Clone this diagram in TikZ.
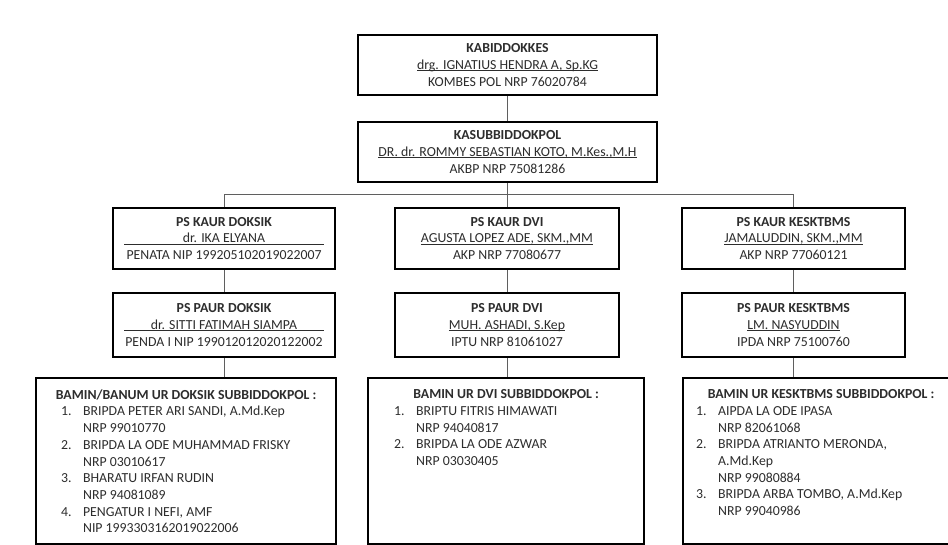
\documentclass[tikz,border=0pt]{standalone}
\usepackage{fontspec}
\setmainfont{Carlito}
\usetikzlibrary{positioning}
\definecolor{ink}{RGB}{45,45,45}
\definecolor{wire}{RGB}{95,95,95}
\newcommand{\nr}[1]{\makebox[22pt][l]{#1}}
\newcommand{\nx}{\hspace*{22pt}}
\newcommand{\uname}[1]{\setbox0=\hbox{#1}\rlap{\rule[-1.6pt]{\wd0}{0.7pt}}\box0}
\newcommand{\wideline}[1]{\rlap{\rule[-1.6pt]{200pt}{0.7pt}}\makebox[200pt]{#1}}

\begin{document}
\begin{tikzpicture}[x=1pt, y=-1pt,
  every node/.style={font=\fontsize{13.8}{16.7}\selectfont, text=ink},
  chief/.style={draw=black, line width=2.2pt, align=center, inner sep=0pt},
  staffbox/.style={draw=black, line width=2.2pt, inner sep=0pt, anchor=north west},
  wireline/.style={draw=wire, line width=1pt}]
  \useasboundingbox (0,0) rectangle (948,544);
  \fill[white] (0,0) rectangle (948,544);

  % pimpinan
  \node[chief, minimum width=299pt, minimum height=60pt] (kabid) at (507.5,65) {\textbf{KABIDDOKKES}\\\uname{drg. IGNATIUS HENDRA A, Sp.KG}\\KOMBES POL NRP 76020784};
  \node[chief, minimum width=299pt, minimum height=60pt, below=24.8pt of kabid] (kasub) {\textbf{KASUBBIDDOKPOL}\\\uname{DR. dr. ROMMY SEBASTIAN KOTO, M.Kes.,M.H}\\AKBP NRP 75081286};

  % kaur
  \node[chief, minimum width=222pt, minimum height=61pt] (kaurdok) at (224,238.5) {\textbf{PS KAUR DOKSIK}\\\wideline{dr. IKA ELYANA}\\PENATA NIP 199205102019022007};
  \node[chief, minimum width=224pt, minimum height=61pt] (kaurdvi) at (507,238.5) {\textbf{PS KAUR DVI}\\\uname{AGUSTA LOPEZ ADE, SKM.,MM}\\AKP NRP 77080677};
  \node[chief, minimum width=223pt, minimum height=61pt] (kaurkes) at (793.5,238.5) {\textbf{PS KAUR KESKTBMS}\\\uname{JAMALUDDIN, SKM.,MM}\\AKP NRP 77060121};

  % paur
  \node[chief, minimum width=222pt, minimum height=64pt, below=21.8pt of kaurdok] (paurdok) {\textbf{PS PAUR DOKSIK}\\\wideline{dr. SITTI FATIMAH SIAMPA}\\PENDA I NIP 199012012020122002};
  \node[chief, minimum width=224pt, minimum height=64pt, below=21.8pt of kaurdvi] (paurdvi) {\textbf{PS PAUR DVI}\\\uname{MUH. ASHADI, S.Kep}\\IPTU NRP 81061027};
  \node[chief, minimum width=223pt, minimum height=64pt, below=21.8pt of kaurkes] (paurkes) {\textbf{PS PAUR KESKTBMS}\\\uname{LM. NASYUDDIN}\\IPDA NRP 75100760};

  % bamin
  \node[staffbox] (bamindok) at (35,377) {\parbox[c][166pt][t]{300pt}{\vspace*{11.5pt}%
    {\centering\bfseries BAMIN/BANUM UR DOKSIK SUBBIDDOKPOL :\par}
    \leftskip=25pt
    \nr{1.}BRIPDA PETER ARI SANDI, A.Md.Kep\par
    \nx NRP 99010770\par
    \nr{2.}BRIPDA LA ODE MUHAMMAD FRISKY\par
    \nx NRP 03010617\par
    \nr{3.}BHARATU IRFAN RUDIN\par
    \nx NRP 94081089\par
    \nr{4.}PENGATUR I NEFI, AMF\par
    \nx NIP 1993303162019022006\par}};
  \node[staffbox] (bamindvi) at (367,377) {\parbox[c][166pt][t]{276pt}{\vspace*{11.5pt}%
    {\centering\bfseries BAMIN UR DVI SUBBIDDOKPOL :\par}
    \leftskip=26pt
    \nr{1.}BRIPTU FITRIS HIMAWATI\par
    \nx NRP 94040817\par
    \nr{2.}BRIPDA LA ODE AZWAR\par
    \nx NRP 03030405\par}};
  \node[staffbox] (baminkes) at (682,377) {\parbox[c][166pt][t]{276pt}{\vspace*{11.5pt}%
    {\centering\bfseries BAMIN UR KESKTBMS SUBBIDDOKPOL :\par}
    \leftskip=13pt
    \nr{1.}AIPDA LA ODE IPASA\par
    \nx NRP 82061068\par
    \nr{2.}BRIPDA ATRIANTO MERONDA,\par
    \nx A.Md.Kep\par
    \nx NRP 99080884\par
    \nr{3.}BRIPDA ARBA TOMBO, A.Md.Kep\par
    \nx NRP 99040986\par}};

  % garis
  \coordinate (bar) at (0,194);
  \draw[wireline] (kabid) -- (kasub);
  \draw[wireline] (kasub.south) -- (kasub.south |- bar);
  \draw[wireline] (kaurdok.north |- bar) -- (kaurkes.north |- bar);
  \foreach \col in {dok,dvi,kes} {
    \draw[wireline] (kaur\col.north |- bar) -- (kaur\col.north);
    \draw[wireline] (kaur\col) -- (paur\col);
    \draw[wireline] (paur\col.south) -- (paur\col.south |- bamin\col.north);
  }
\end{tikzpicture}
\end{document}
